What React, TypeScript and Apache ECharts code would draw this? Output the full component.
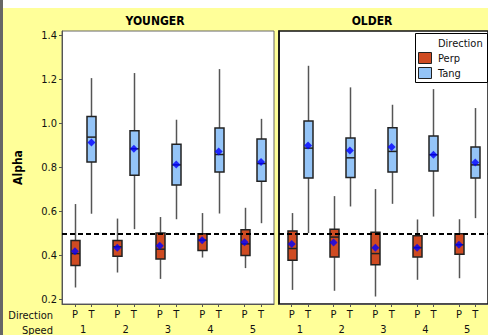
import React, { useEffect, useRef } from "react";
import * as echarts from "echarts";

const FONT = '"DejaVu Sans Condensed", "Liberation Sans", sans-serif';

const speeds = [1, 2, 3, 4, 5];
const directions = ["Perp", "Tang"];
const yTicks = [0.2, 0.4, 0.6, 0.8, 1.0, 1.2, 1.4];

// [low whisker, Q1, median, Q3, high whisker]
const youngerPerp = [
  [0.255, 0.355, 0.409, 0.468, 0.634],
  [0.323, 0.397, 0.44, 0.468, 0.568],
  [0.294, 0.384, 0.429, 0.502, 0.575],
  [0.391, 0.423, 0.47, 0.499, 0.593],
  [0.343, 0.4, 0.453, 0.517, 0.617],
];
const youngerPerpMean = [0.42, 0.435, 0.445, 0.47, 0.461];
const youngerTang = [
  [0.59, 0.825, 0.938, 1.032, 1.206],
  [0.52, 0.765, 0.885, 0.967, 1.229],
  [0.565, 0.72, 0.812, 0.906, 1.017],
  [0.591, 0.78, 0.859, 0.979, 1.247],
  [0.547, 0.738, 0.818, 0.929, 1.021],
];
const youngerTangMean = [0.914, 0.885, 0.814, 0.873, 0.825];
const olderPerp = [
  [0.244, 0.379, 0.432, 0.512, 0.593],
  [0.24, 0.393, 0.484, 0.52, 0.67],
  [0.214, 0.358, 0.409, 0.506, 0.702],
  [0.29, 0.394, 0.436, 0.49, 0.564],
  [0.297, 0.406, 0.449, 0.499, 0.565],
];
const olderPerpMean = [0.453, 0.459, 0.436, 0.436, 0.449];
const olderTang = [
  [0.502, 0.752, 0.888, 1.011, 1.262],
  [0.623, 0.755, 0.844, 0.934, 1.164],
  [0.635, 0.779, 0.873, 0.98, 1.085],
  [0.577, 0.784, 0.858, 0.943, 1.156],
  [0.57, 0.752, 0.812, 0.893, 1.07],
];
const olderTangMean = [0.9, 0.877, 0.893, 0.858, 0.823];

const OFF = 0.195;
const PERP_FILL = "#CF4B22";
const TANG_FILL = "#94C4F7";

const xPositions: number[] = [];
speeds.forEach((s) => {
  xPositions.push(s - OFF, s + OFF);
});

function boxData(rows: number[][], offset: number) {
  return rows.map((r, i) => [speeds[i] + offset, ...r]);
}
function meanData(vals: number[], offset: number) {
  return vals.map((v, i) => [speeds[i] + offset, v]);
}

function renderBox(fill: string) {
  return (params: any, api: any) => {
    const x = api.value(0);
    const low = api.coord([x, api.value(1)]);
    const q1 = api.coord([x, api.value(2)]);
    const med = api.coord([x, api.value(3)]);
    const q3 = api.coord([x, api.value(4)]);
    const high = api.coord([x, api.value(5)]);
    const cx = Math.round(low[0]) + 0.5;
    const half = 4.5;
    return {
      type: "group",
      children: [
        { type: "line", shape: { x1: cx, y1: high[1], x2: cx, y2: q3[1] }, style: { stroke: "#555", lineWidth: 1.5 } },
        { type: "line", shape: { x1: cx, y1: q1[1], x2: cx, y2: low[1] }, style: { stroke: "#555", lineWidth: 1.5 } },
        {
          type: "rect",
          shape: { x: cx - half, y: q3[1], width: half * 2, height: q1[1] - q3[1] },
          style: { fill, stroke: "#222", lineWidth: 1.5 },
        },
        { type: "line", shape: { x1: cx - half, y1: med[1], x2: cx + half, y2: med[1] }, style: { stroke: "#222", lineWidth: 1.5 } },
      ],
    };
  };
}

function panelSeries(gi: number, perp: number[][], perpMean: number[], tang: number[][], tangMean: number[]) {
  return [
    {
      type: "custom", name: directions[0], xAxisIndex: gi * 2, yAxisIndex: gi,
      renderItem: renderBox(PERP_FILL), data: boxData(perp, -OFF), encode: { x: 0, y: [1, 2, 3, 4, 5] }, z: 2,
    },
    {
      type: "custom", name: directions[1], xAxisIndex: gi * 2, yAxisIndex: gi,
      renderItem: renderBox(TANG_FILL), data: boxData(tang, OFF), encode: { x: 0, y: [1, 2, 3, 4, 5] }, z: 2,
    },
    {
      type: "scatter", xAxisIndex: gi * 2, yAxisIndex: gi, symbol: "diamond", symbolSize: 8,
      itemStyle: { color: "#0000FF" }, z: 5,
      data: [...meanData(perpMean, -OFF), ...meanData(tangMean, OFF)],
      markLine: {
        silent: true, symbol: ["none", "none"], label: { show: false },
        lineStyle: { color: "#000", type: [5, 3], width: 2 },
        data: [{ yAxis: 0.5 }],
      },
    },
  ];
}

function xAxes(gi: number) {
  return [
    {
      type: "value", gridIndex: gi, min: 0.5, max: 5.5, position: "bottom",
      splitLine: { show: false },
      axisLine: { show: true, lineStyle: { color: "#555", width: 1 } },
      axisTick: { show: true, customValues: xPositions, length: 3, lineStyle: { color: "#555" } },
      axisLabel: {
        customValues: xPositions, margin: 5, color: "#111", fontSize: 11, fontFamily: FONT,
        formatter: (v: number) => (v < Math.round(v) ? "P" : "T"),
      },
    },
    {
      type: "value", gridIndex: gi, min: 0.5, max: 5.5, position: "bottom", offset: 15,
      splitLine: { show: false }, axisLine: { show: false }, axisTick: { show: false },
      axisLabel: {
        customValues: speeds, margin: 5, color: "#111", fontSize: 11, fontFamily: FONT,
        formatter: (v: number) => String(Math.round(v)),
      },
    },
  ];
}

export default function App() {
  const ref = useRef<HTMLDivElement>(null);
  useEffect(() => {
    const chart = echarts.init(ref.current!, undefined, { renderer: "svg" });
    chart.setOption({
      animation: false,
      backgroundColor: "#FFFF99",
      textStyle: { fontFamily: FONT },
      grid: [
        { left: 62, top: 31, width: 212, height: 273, show: true, backgroundColor: "#fff", borderColor: "#666", borderWidth: 1 },
        { left: 279, top: 31, width: 212, height: 273, show: true, backgroundColor: "#fff", borderColor: "#111", borderWidth: 1.5 },
      ],
      xAxis: [...xAxes(0), ...xAxes(1)],
      yAxis: [
        {
          type: "value", gridIndex: 0, min: 0.18, max: 1.42,
          splitLine: { show: false },
          axisLine: { show: true, lineStyle: { color: "#555" } },
          axisTick: { show: true, customValues: yTicks, length: 3, lineStyle: { color: "#555" } },
          axisLabel: {
            customValues: yTicks, margin: 5, color: "#111", fontSize: 11, fontFamily: FONT,
            formatter: (v: number) => v.toFixed(1),
          },
          name: "Alpha", nameLocation: "middle", nameGap: 38,
          nameTextStyle: { fontWeight: "bold", fontSize: 12, color: "#000", fontFamily: FONT },
        },
        {
          type: "value", gridIndex: 1, min: 0.18, max: 1.42,
          splitLine: { show: false },
          axisLine: { show: true, lineStyle: { color: "#111", width: 1.5 } },
          axisTick: { show: false }, axisLabel: { show: false },
        },
      ],
      series: [
        ...panelSeries(0, youngerPerp, youngerPerpMean, youngerTang, youngerTangMean),
        ...panelSeries(1, olderPerp, olderPerpMean, olderTang, olderTangMean),
      ],
      graphic: [
        { type: "rect", shape: { x: 0, y: 0, width: 488, height: 8 }, style: { fill: "#fff" }, z: 100 },
        { type: "rect", shape: { x: 0, y: 0, width: 3, height: 335 }, style: { fill: "#666" }, z: 100 },
        { type: "text", x: 155, y: 21, style: { text: "YOUNGER", fontWeight: "bold", fontSize: 12, fontFamily: FONT, fill: "#000", textAlign: "center", textVerticalAlign: "middle" }, z: 100 },
        { type: "text", x: 372, y: 21, style: { text: "OLDER", fontWeight: "bold", fontSize: 12, fontFamily: FONT, fill: "#000", textAlign: "center", textVerticalAlign: "middle" }, z: 100 },
        { type: "text", x: 53, y: 315, style: { text: "Direction", fontSize: 11, fontFamily: FONT, fill: "#111", textAlign: "right", textVerticalAlign: "middle" }, z: 100 },
        { type: "text", x: 53, y: 330, style: { text: "Speed", fontSize: 11, fontFamily: FONT, fill: "#111", textAlign: "right", textVerticalAlign: "middle" }, z: 100 },
        { type: "rect", shape: { x: 415.5, y: 33.5, width: 72, height: 49 }, style: { fill: "#fff", stroke: "#000", lineWidth: 1 }, z: 100 },
        { type: "text", x: 438, y: 43, style: { text: "Direction", fontSize: 11, fontFamily: FONT, fill: "#111", textVerticalAlign: "middle" }, z: 101 },
        { type: "rect", shape: { x: 418.5, y: 52.5, width: 13, height: 11 }, style: { fill: PERP_FILL, stroke: "#222", lineWidth: 1 }, z: 101 },
        { type: "text", x: 438, y: 58, style: { text: directions[0], fontSize: 11, fontFamily: FONT, fill: "#111", textVerticalAlign: "middle" }, z: 101 },
        { type: "rect", shape: { x: 418.5, y: 67.5, width: 13, height: 11 }, style: { fill: TANG_FILL, stroke: "#222", lineWidth: 1 }, z: 101 },
        { type: "text", x: 438, y: 73, style: { text: directions[1], fontSize: 11, fontFamily: FONT, fill: "#111", textVerticalAlign: "middle" }, z: 101 },
      ],
    });
    return () => chart.dispose();
  }, []);
  return <div ref={ref} style={{ position: "fixed", left: 0, top: 0, width: 488, height: 335 }} />;
}
